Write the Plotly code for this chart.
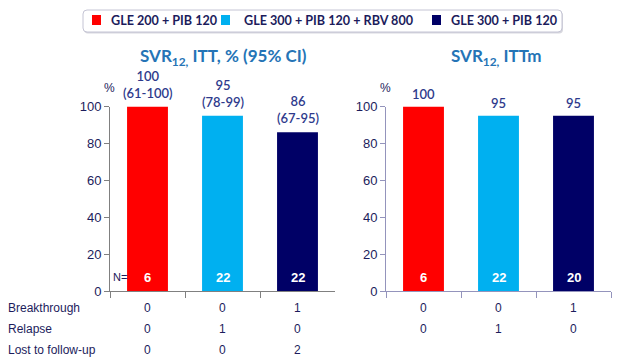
import plotly.graph_objects as go

# ---- data ----
regimens = ["GLE 200 + PIB 120", "GLE 300 + PIB 120 + RBV 800", "GLE 300 + PIB 120"]
colors = ["#ff0000", "#00b0f0", "#000066"]
itt_svr = [100, 95, 86]
itt_ci = ["61-100", "78-99", "67-95"]
itt_n = [6, 22, 22]
ittm_svr = [100, 95, 95]
ittm_n = [6, 22, 20]
row_labels = ["Breakthrough", "Relapse", "Lost to follow-up"]
itt_rows = [[0, 0, 1], [0, 1, 0], [0, 0, 2]]
ittm_rows = [[0, 0, 1], [0, 1, 0]]
y_ticks = [0, 20, 40, 60, 80, 100]

W, H = 620, 363
NAVY = "#1c1c5c"
LBL = "#2e3a8c"
FONT = "Lato"

fig = go.Figure()
for i, r in enumerate(regimens):
    fig.add_trace(go.Bar(x=[r], y=[itt_svr[i]], name=r, marker_color=colors[i],
                         marker_line_width=0, legendgroup=r, showlegend=False,
                         xaxis="x", yaxis="y"))
    fig.add_trace(go.Bar(x=[r], y=[ittm_svr[i]], name=r, marker_color=colors[i],
                         marker_line_width=0, legendgroup=r, showlegend=False,
                         xaxis="x2", yaxis="y2"))

ydom = [(H - 291) / H, (H - 106.5) / H]
common_x = dict(type="category", categoryorder="array", categoryarray=regimens,
                range=[-0.5, 2.5], showticklabels=False, ticks="outside",
                tickson="boundaries", ticklen=6, showgrid=False, showline=True,
                linewidth=1, fixedrange=True)
common_y = dict(range=[0, 100], tickvals=y_ticks, ticks="outside", ticklen=5,
                showgrid=False, showline=True, linewidth=1, zeroline=False,
                tickfont=dict(family="Liberation Sans", size=13, color=NAVY))

fig.update_layout(
    width=W, height=H, margin=dict(l=0, r=0, t=0, b=0, autoexpand=False),
    paper_bgcolor="white", plot_bgcolor="white",
    barmode="overlay", bargap=0.455,
    xaxis=dict(domain=[110 / W, 335 / W], anchor="y", linecolor="#808080", tickcolor="#808080", **common_x),
    yaxis=dict(domain=ydom, anchor="x", linecolor="#808080", tickcolor="#808080", **common_y),
    xaxis2=dict(domain=[386 / W, 611 / W], anchor="y2", linecolor="#9494bc", tickcolor="#9494bc", **common_x),
    yaxis2=dict(domain=ydom, anchor="x2", linecolor="#9494bc", tickcolor="#9494bc", **common_y),
    showlegend=False,
)


def py(v):
    return 1 - v / H


def rrect_px(x0, y0, x1, y1, r):
    X = lambda v: v / W
    Y = lambda v: 1 - v / H
    return (f"M{X(x0+r)},{Y(y0)} L{X(x1-r)},{Y(y0)} Q{X(x1)},{Y(y0)} {X(x1)},{Y(y0+r)} "
            f"L{X(x1)},{Y(y1-r)} Q{X(x1)},{Y(y1)} {X(x1-r)},{Y(y1)} L{X(x0+r)},{Y(y1)} "
            f"Q{X(x0)},{Y(y1)} {X(x0)},{Y(y1-r)} L{X(x0)},{Y(y0+r)} Q{X(x0)},{Y(y0)} {X(x0+r)},{Y(y0)} Z")


shapes = []
box = (83, 10, 562, 32)
shapes.append(dict(type="path", xref="paper", yref="paper",
                   path=rrect_px(box[0] + 1, box[1] + 1.5, box[2] + 1, box[3] + 1.5, 4),
                   line=dict(width=0), fillcolor="rgba(140,140,160,0.35)"))
shapes.append(dict(type="path", xref="paper", yref="paper",
                   path=rrect_px(*box, 4),
                   line=dict(width=1, color="#c4c4d4"), fillcolor="white"))

legend_sq_x = [92, 221, 432]
legend_txt_x = [109, 242, 449]
ann = []
for i, r in enumerate(regimens):
    sx = legend_sq_x[i]
    shapes.append(dict(type="rect", xref="paper", yref="paper",
                       x0=sx / W, x1=(sx + 9) / W, y0=py(25), y1=py(15),
                       line=dict(width=0), fillcolor=colors[i]))
    ann.append(dict(text=f"<b>{r}</b>", x=legend_txt_x[i] / W, y=py(20.5), xref="paper", yref="paper",
                    showarrow=False, xanchor="left", yanchor="middle",
                    font=dict(family=FONT, size=12.6, color=NAVY)))

# titles
ann.append(dict(text="<b>SVR<sub>12,</sub> ITT, % (95% CI)</b>", x=223 / W, y=py(57),
                xref="paper", yref="paper", showarrow=False, xanchor="center", yanchor="middle",
                font=dict(family=FONT, size=17, color="#2574b6")))
ann.append(dict(text="<b>SVR<sub>12,</sub> ITTm</b>", x=496 / W, y=py(57),
                xref="paper", yref="paper", showarrow=False, xanchor="center", yanchor="middle",
                font=dict(family=FONT, size=17, color="#2574b6")))
# % labels
for xr, yr in [("x", "y"), ("x2", "y2")]:
    ann.append(dict(text="%", x=-0.5, y=100, xref=xr, yref=yr, showarrow=False,
                    xanchor="center", yanchor="bottom", yshift=10, xshift=-1,
                    font=dict(family="Liberation Sans", size=12, color=NAVY)))
# N=
ann.append(dict(text="N=", x=-0.5, y=0, xref="x", yref="y", showarrow=False,
                xanchor="left", yanchor="bottom", xshift=1, yshift=6,
                font=dict(family="Liberation Sans", size=11, color=NAVY)))
lbl_font = dict(family=FONT, size=13, color=LBL, weight=600)
for i, r in enumerate(regimens):
    ann.append(dict(text=f"{itt_svr[i]}<br>({itt_ci[i]})", x=r, y=itt_svr[i], xref="x", yref="y",
                    showarrow=False, xanchor="center", yanchor="bottom", yshift=4,
                    font=lbl_font))
    ann.append(dict(text=f"{ittm_svr[i]}", x=r, y=ittm_svr[i], xref="x2", yref="y2",
                    showarrow=False, xanchor="center", yanchor="middle", yshift=12.5,
                    font=lbl_font))
    ann.append(dict(text=f"<b>{itt_n[i]}</b>", x=r, y=0, xref="x", yref="y",
                    showarrow=False, xanchor="center", yanchor="bottom", yshift=4,
                    font=dict(family="Liberation Sans", size=13, color="white")))
    ann.append(dict(text=f"<b>{ittm_n[i]}</b>", x=r, y=0, xref="x2", yref="y2",
                    showarrow=False, xanchor="center", yanchor="bottom", yshift=4,
                    font=dict(family="Liberation Sans", size=13, color="white")))

row_y = [308, 329, 350]
for k, lab in enumerate(row_labels):
    ann.append(dict(text=lab, x=6 / W, y=py(row_y[k]), xref="paper", yref="paper",
                    showarrow=False, xanchor="left", yanchor="middle",
                    font=dict(family="Liberation Sans", size=12, color=NAVY)))
    for i, r in enumerate(regimens):
        ann.append(dict(text=str(itt_rows[k][i]), x=r, y=py(row_y[k]), xref="x", yref="paper",
                        showarrow=False, xanchor="center", yanchor="middle",
                        font=dict(family="Liberation Sans", size=12, color=NAVY)))
        if k < len(ittm_rows):
            ann.append(dict(text=str(ittm_rows[k][i]), x=r, y=py(row_y[k]), xref="x2", yref="paper",
                            showarrow=False, xanchor="center", yanchor="middle",
                            font=dict(family="Liberation Sans", size=12, color=NAVY)))

fig.update_layout(annotations=ann, shapes=shapes)
fig.write_html("out.html", config={"displayModeBar": False},
               post_script="document.body.style.margin='0';")
